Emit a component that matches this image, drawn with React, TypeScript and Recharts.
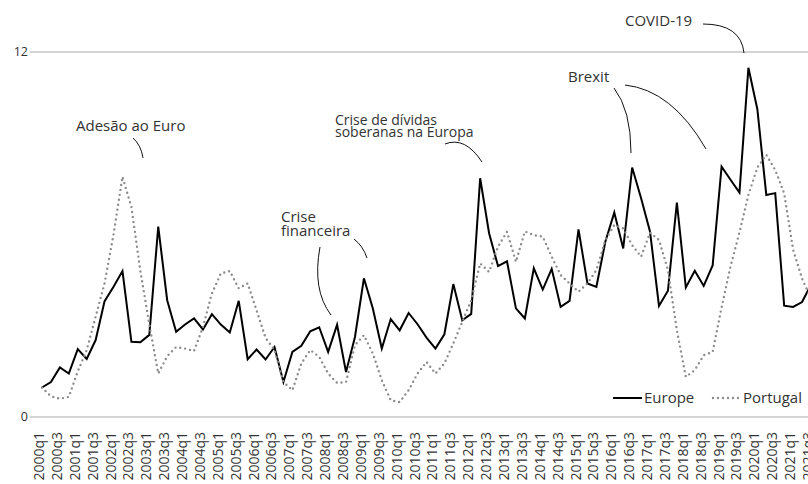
import React from 'react';
import { LineChart, Line, XAxis, YAxis, CartesianGrid, Legend } from 'recharts';

const quarters = [
  '2000q1', '2000q2', '2000q3', '2000q4',
  '2001q1', '2001q2', '2001q3', '2001q4',
  '2002q1', '2002q2', '2002q3', '2002q4',
  '2003q1', '2003q2', '2003q3', '2003q4',
  '2004q1', '2004q2', '2004q3', '2004q4',
  '2005q1', '2005q2', '2005q3', '2005q4',
  '2006q1', '2006q2', '2006q3', '2006q4',
  '2007q1', '2007q2', '2007q3', '2007q4',
  '2008q1', '2008q2', '2008q3', '2008q4',
  '2009q1', '2009q2', '2009q3', '2009q4',
  '2010q1', '2010q2', '2010q3', '2010q4',
  '2011q1', '2011q2', '2011q3', '2011q4',
  '2012q1', '2012q2', '2012q3', '2012q4',
  '2013q1', '2013q2', '2013q3', '2013q4',
  '2014q1', '2014q2', '2014q3', '2014q4',
  '2015q1', '2015q2', '2015q3', '2015q4',
  '2016q1', '2016q2', '2016q3', '2016q4',
  '2017q1', '2017q2', '2017q3', '2017q4',
  '2018q1', '2018q2', '2018q3', '2018q4',
  '2019q1', '2019q2', '2019q3', '2019q4',
  '2020q1', '2020q2', '2020q3', '2020q4',
  '2021q1', '2021q2', '2021q3',
];

const europe = [
  0.97, 1.15, 1.63, 1.43,
  2.23, 1.91, 2.53, 3.81,
  4.28, 4.8, 2.47, 2.46,
  2.7, 6.26, 3.84, 2.8,
  3.04, 3.24, 2.88, 3.38,
  3.04, 2.78, 3.82, 1.9,
  2.22, 1.89, 2.3, 1.15,
  2.14, 2.34, 2.82, 2.95,
  2.14, 3.03, 1.48, 2.63,
  4.56, 3.57, 2.25, 3.22,
  2.85, 3.42, 3.05, 2.61,
  2.25, 2.72, 4.37, 3.18,
  3.39, 7.85, 6.04, 4.96,
  5.12, 3.57, 3.24, 4.89,
  4.19, 4.87, 3.62, 3.82,
  6.17, 4.39, 4.28, 5.76,
  6.72, 5.54, 8.2, 7.19,
  6.09, 3.65, 4.15, 7.05,
  4.26, 4.81, 4.31, 4.98,
  8.23, 7.8, 7.38, 11.48,
  10.12, 7.3, 7.36, 3.66,
  3.62, 3.78, 4.35,
];

const portugal = [
  0.97, 0.68, 0.6, 0.66,
  1.5, 2.2, 3.3, 4.4,
  6.0, 7.9, 6.9, 4.8,
  3.05, 1.43, 2.0, 2.3,
  2.25, 2.17, 2.96, 4.06,
  4.72, 4.8, 4.23, 4.39,
  3.5, 2.6, 2.2, 1.15,
  0.88, 1.76, 2.2, 1.98,
  1.43, 1.12, 1.15, 2.36,
  2.69, 2.09, 1.21, 0.55,
  0.49, 0.88, 1.43, 1.81,
  1.43, 1.76, 2.42, 3.13,
  3.84, 5.05, 4.77, 5.6,
  6.09, 5.1, 6.1, 5.98,
  5.93, 5.27, 4.67, 4.39,
  4.12, 4.39, 4.83, 5.82,
  6.31, 6.2, 5.65, 5.27,
  6.06, 5.82, 4.83, 2.85,
  1.32, 1.54, 2.03, 2.14,
  3.6, 4.95, 6.07, 7.3,
  8.2, 8.62, 8.12, 7.35,
  5.5, 4.55, 3.9,
];

const yTicks = [0, 12];
const seriesNames = ['Europe', 'Portugal'];

const data = quarters.map((q, i) => ({ i, q, europe: europe[i], portugal: portugal[i] }));
const xTicks = quarters.map((_, i) => i).filter((i) => /q[13]$/.test(quarters[i]));

const FONT = '"Open Sans", sans-serif';
const TEXT = '#333';
const DOT_COLOR = '#8c8c8c';

const XTick = (props: any) => {
  const { x, y, payload } = props;
  return (
    <text
      x={x}
      y={y}
      dy={2}
      transform={`rotate(-90, ${x}, ${y})`}
      textAnchor="end"
      fontFamily={FONT}
      fontSize={14}
      fill={TEXT}
    >
      {quarters[payload.value]}
    </text>
  );
};

const YTick = (props: any) => {
  const { x, y, payload } = props;
  return (
    <text x={x} y={y} dy="0.35em" textAnchor="end" fontFamily={FONT} fontSize={12.5} fill={TEXT}>
      {payload.value}
    </text>
  );
};

const LegendContent = () => (
  <svg width={210} height={24} style={{ display: 'block' }}>
    <line x1={13} x2={42} y1={12} y2={12} stroke="#000" strokeWidth={2} />
    <text x={44} y={17} fontFamily={FONT} fontSize={15} fill={TEXT}>{seriesNames[0]}</text>
    <line
      x1={113}
      x2={139}
      y1={12}
      y2={12}
      stroke={DOT_COLOR}
      strokeWidth={2.4}
      strokeDasharray="0 5"
      strokeLinecap="round"
    />
    <text x={143} y={17} fontFamily={FONT} fontSize={15} fill={TEXT}>{seriesNames[1]}</text>
  </svg>
);

const Annotations = () => (
  <svg
    width={808}
    height={484}
    style={{ position: 'absolute', left: 0, top: 0, pointerEvents: 'none' }}
  >
    <g fontFamily={FONT} fontSize={15} fill={TEXT}>
      <text x={76} y={131}>Adesão ao Euro</text>
      <text x={281} y={222}>Crise</text>
      <text x={281} y={235.5}>financeira</text>
      <text x={568} y={82}>Brexit</text>
      <text x={625} y={26}>COVID-19</text>
    </g>
    <g fontFamily={FONT} fontSize={14} fill={TEXT}>
      <text x={335} y={125}>Crise de dívidas</text>
      <text x={335} y={136.5}>soberanas na Europa</text>
    </g>
    <g fill="none" stroke="#111" strokeWidth={1}>
      <path d="M133,138 Q141,145 143,158" />
      <path d="M320,247 Q312,290 331,315" />
      <path d="M354,239 Q363,246 367,258" />
      <path d="M445,144 Q465,136 482,162" />
      <path d="M614,88 Q631,110 631,153" />
      <path d="M625,85 Q672,90 706,149" />
      <path d="M703,24 Q741,24 744,53" />
    </g>
  </svg>
);

export default function App() {
  return (
    <div
      style={{
        position: 'absolute',
        left: 0,
        top: 0,
        width: 808,
        height: 484,
        overflow: 'hidden',
        background: '#fff',
      }}
    >
      <LineChart
        width={830}
        height={484}
        data={data}
        margin={{ top: 52, right: 0, bottom: 7, left: 0 }}
      >
        <CartesianGrid horizontal vertical={false} stroke="#a8a8a8" strokeWidth={1} />
        <XAxis
          dataKey="i"
          type="number"
          domain={[0, quarters.length - 1]}
          ticks={xTicks}
          interval={0}
          padding={{ left: 12, right: 19 }}
          height={60}
          axisLine={false}
          tickLine={false}
          tickSize={0}
          tickMargin={15}
          tick={<XTick />}
        />
        <YAxis
          domain={[0, 12]}
          ticks={yTicks}
          width={30}
          axisLine={false}
          tickLine={false}
          tickSize={0}
          tickMargin={2}
          tick={<YTick />}
        />
        <Line
          type="linear"
          dataKey="europe"
          name={seriesNames[0]}
          stroke="#000"
          strokeWidth={2}
          dot={false}
          activeDot={false}
          isAnimationActive={false}
        />
        <Line
          type="linear"
          dataKey="portugal"
          name={seriesNames[1]}
          stroke={DOT_COLOR}
          strokeWidth={2.4}
          strokeDasharray="0 5"
          strokeLinecap="round"
          dot={false}
          activeDot={false}
          isAnimationActive={false}
        />
        <Legend
          layout="horizontal"
          verticalAlign="middle"
          align="center"
          wrapperStyle={{ left: 600, top: 386, width: 210, height: 24 }}
          content={<LegendContent />}
        />
      </LineChart>
      <Annotations />
    </div>
  );
}
